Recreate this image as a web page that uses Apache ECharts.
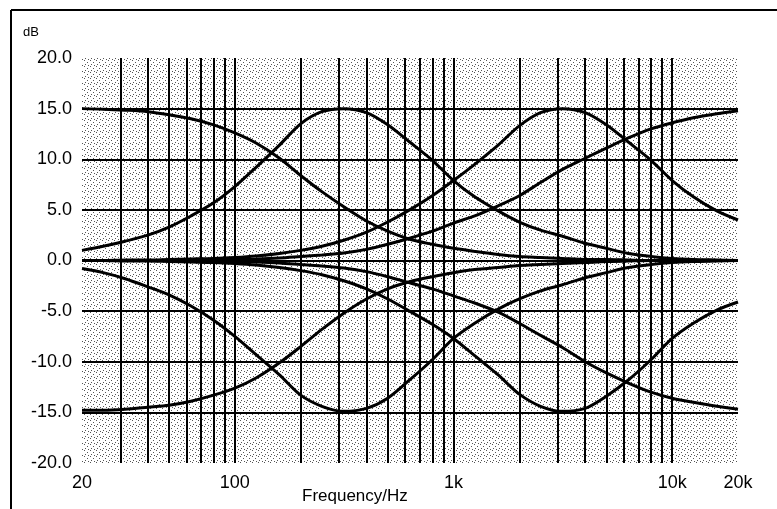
<!DOCTYPE html>
<html>
<head>
<meta charset="utf-8">
<script src="https://cdn.jsdelivr.net/npm/echarts@6/dist/echarts.min.js"></script>
<style>
  html, body { margin: 0; padding: 0; background: #fff; }
  #main { width: 777px; height: 509px; }
</style>
</head>
<body>
<div id="main"></div>
<script>
// third-octave sample frequencies (Hz)
var freqs = [20, 25, 31.5, 40, 50, 63, 80, 100, 125, 160, 200, 250, 315, 400, 500, 630, 800, 1000, 1250, 1600, 2000, 2500, 3150, 4000, 5000, 6300, 8000, 10000, 12500, 16000, 20000];

// boost curves (dB)
var lowShelfBoost  = [15.0, 14.95, 14.85, 14.7, 14.4, 14.0, 13.4, 12.6, 11.6, 10.1, 8.4, 6.8, 5.3, 3.9, 2.9, 2.1, 1.6, 1.2, 0.9, 0.6, 0.4, 0.3, 0.2, 0.1, 0.1, 0.05, 0, 0, 0, 0, 0];
var peak300Boost   = [1.0, 1.4, 1.9, 2.5, 3.3, 4.4, 5.7, 7.3, 9.2, 11.4, 13.5, 14.7, 15.0, 14.6, 13.4, 11.7, 9.9, 7.9, 6.3, 4.9, 3.8, 3.0, 2.4, 1.7, 1.2, 0.7, 0.4, 0.2, 0.1, 0.05, 0];
var peak3kBoost    = [0, 0, 0.05, 0.05, 0.1, 0.15, 0.2, 0.3, 0.45, 0.7, 1.0, 1.4, 2.0, 2.8, 3.8, 5.0, 6.4, 7.9, 9.5, 11.4, 13.3, 14.6, 15.0, 14.6, 13.4, 11.7, 9.9, 7.9, 6.3, 4.9, 4.0];
var highShelfBoost = [0, 0, 0, 0, 0, 0, 0.05, 0.1, 0.15, 0.25, 0.4, 0.55, 0.75, 1.1, 1.6, 2.2, 2.9, 3.7, 4.4, 5.4, 6.4, 7.7, 9.0, 10.1, 11.1, 12.1, 13.0, 13.6, 14.1, 14.5, 14.8];

// cut curves (dB)
var lowShelfCut  = [-14.8, -14.8, -14.7, -14.5, -14.3, -13.9, -13.3, -12.6, -11.6, -10.1, -8.5, -6.8, -5.2, -3.8, -2.8, -2.1, -1.6, -1.2, -0.9, -0.7, -0.5, -0.4, -0.3, -0.2, -0.1, -0.05, 0, 0, 0, 0, 0];
var peak300Cut   = [-0.8, -1.2, -1.8, -2.6, -3.4, -4.5, -5.9, -7.5, -9.3, -11.3, -13.3, -14.4, -14.9, -14.6, -13.6, -11.8, -9.8, -7.7, -6.2, -4.8, -3.8, -3.0, -2.4, -1.7, -1.2, -0.7, -0.4, -0.2, -0.1, -0.05, 0];
var peak3kCut    = [0, 0, -0.05, -0.05, -0.1, -0.15, -0.2, -0.3, -0.45, -0.7, -1.0, -1.4, -2.0, -2.8, -3.8, -5.0, -6.3, -7.7, -9.4, -11.3, -13.2, -14.4, -14.9, -14.6, -13.4, -11.8, -9.8, -7.7, -6.2, -4.9, -4.1];
var highShelfCut = [0, 0, 0, 0, 0, 0, -0.05, -0.1, -0.15, -0.25, -0.4, -0.55, -0.75, -1.1, -1.6, -2.2, -2.8, -3.5, -4.2, -5.1, -6.2, -7.4, -8.6, -10.0, -11.1, -12.1, -13.0, -13.6, -14.0, -14.4, -14.7];

// vertical grid lines (Hz)
var gridFreqs = [30, 40, 50, 60, 70, 80, 90, 100, 200, 300, 400, 500, 600, 700, 800, 900, 1000, 2000, 3000, 4000, 5000, 6000, 7000, 8000, 9000, 10000];
// horizontal grid lines (dB)
var gridLevels = [-15, -10, -5, 0, 5, 10, 15];

var curves = [lowShelfBoost, peak300Boost, peak3kBoost, highShelfBoost, lowShelfCut, peak300Cut, peak3kCut, highShelfCut];

// dotted paper background
var tile = document.createElement('canvas');
tile.width = 6; tile.height = 6;
var tc = tile.getContext('2d');
tc.fillStyle = '#fff';
tc.fillRect(0, 0, 6, 6);
tc.fillStyle = '#555';
[[0, 0], [3, 2], [1, 4], [4, 5]].forEach(function (p) { tc.fillRect(p[0], p[1], 1, 1); });

var chart = echarts.init(document.getElementById('main'));

var series = curves.map(function (vals) {
  return {
    type: 'line',
    data: freqs.map(function (f, i) { return [f, vals[i]]; }),
    smooth: 0.3,
    showSymbol: false,
    silent: true,
    lineStyle: { color: '#000', width: 3 },
    z: 5
  };
});

series.push({
  type: 'line',
  data: [],
  silent: true,
  markLine: {
    silent: true,
    symbol: 'none',
    label: { show: false },
    lineStyle: { color: '#000', width: 2, type: 'solid' },
    data: gridFreqs.map(function (f) { return { xAxis: f }; })
      .concat(gridLevels.map(function (v) { return { yAxis: v, lineStyle: { width: 1.8 } }; }))
  },
  z: 3
});

var labelFont = 'Liberation Sans, Arial, Helvetica, sans-serif';

chart.setOption({
  animation: false,
  backgroundColor: '#fff',
  grid: {
    left: 82, right: 39, top: 58, bottom: 46,
    show: true,
    borderWidth: 0,
    backgroundColor: { image: tile, repeat: 'repeat' }
  },
  xAxis: {
    type: 'log',
    logBase: 10,
    min: 20,
    max: 20000,
    axisLine: { show: false },
    axisTick: { show: false },
    splitLine: { show: false },
    axisLabel: {
      color: '#000',
      fontFamily: labelFont,
      fontSize: 18,
      margin: 11,
      showMinLabel: true,
      showMaxLabel: true,
      formatter: function (v) {
        return v >= 1000 ? (v / 1000) + 'k' : String(v);
      }
    }
  },
  yAxis: {
    type: 'value',
    min: -20,
    max: 20,
    interval: 5,
    axisLine: { show: false },
    axisTick: { show: false },
    splitLine: { show: false },
    axisLabel: {
      color: '#000',
      fontFamily: labelFont,
      fontSize: 18,
      margin: 10,
      formatter: function (v) { return v.toFixed(1); }
    }
  },
  graphic: [
    { type: 'line', shape: { x1: 11, y1: 10, x2: 11, y2: 509 }, style: { stroke: '#000', lineWidth: 2 } },
    { type: 'line', shape: { x1: 11, y1: 10, x2: 777, y2: 10 }, style: { stroke: '#000', lineWidth: 2 } },
    { type: 'text', left: 23, top: 26, style: { text: 'dB', fill: '#000', font: '13px ' + labelFont } },
    { type: 'text', left: 302, top: 488, style: { text: 'Frequency/Hz', fill: '#000', font: '17px ' + labelFont } }
  ],
  series: series
});
</script>
</body>
</html>
